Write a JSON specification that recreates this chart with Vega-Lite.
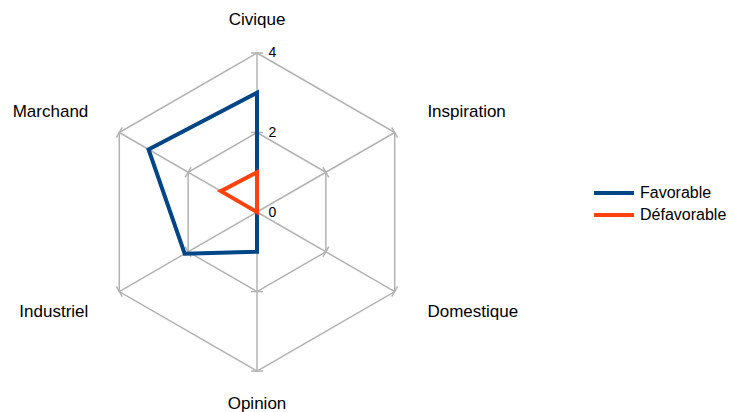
{
  "$schema": "https://vega.github.io/schema/vega-lite/v6.json",
  "width": 734,
  "height": 412,
  "autosize": {"type": "none"},
  "padding": 0,
  "background": "white",
  "config": {"view": {"stroke": null}, "font": "Liberation Sans"},
  "datasets": {
    "scores": [
      {"axe": "Civique", "serie": "Favorable", "valeur": 3},
      {"axe": "Inspiration", "serie": "Favorable", "valeur": 0},
      {"axe": "Domestique", "serie": "Favorable", "valeur": 0},
      {"axe": "Opinion", "serie": "Favorable", "valeur": 1},
      {"axe": "Industriel", "serie": "Favorable", "valeur": 2.1},
      {"axe": "Marchand", "serie": "Favorable", "valeur": 3.15},
      {"axe": "Civique", "serie": "Défavorable", "valeur": 1},
      {"axe": "Inspiration", "serie": "Défavorable", "valeur": 0},
      {"axe": "Domestique", "serie": "Défavorable", "valeur": 0},
      {"axe": "Opinion", "serie": "Défavorable", "valeur": 0},
      {"axe": "Industriel", "serie": "Défavorable", "valeur": 0},
      {"axe": "Marchand", "serie": "Défavorable", "valeur": 1.05}
    ],
    "grille": [
      {"axe": "Civique", "niveau": 2},
      {"axe": "Inspiration", "niveau": 2},
      {"axe": "Domestique", "niveau": 2},
      {"axe": "Opinion", "niveau": 2},
      {"axe": "Industriel", "niveau": 2},
      {"axe": "Marchand", "niveau": 2},
      {"axe": "Civique", "niveau": 4},
      {"axe": "Inspiration", "niveau": 4},
      {"axe": "Domestique", "niveau": 4},
      {"axe": "Opinion", "niveau": 4},
      {"axe": "Industriel", "niveau": 4},
      {"axe": "Marchand", "niveau": 4}
    ]
  },
  "encoding": {
    "x": {"field": "x", "type": "quantitative", "scale": {"domain": [-6.465, 12.0], "nice": false, "zero": false}, "axis": null},
    "y": {"field": "y", "type": "quantitative", "scale": {"domain": [-5.03, 5.333], "nice": false, "zero": false},
      "axis": {"orient": "right", "offset": -477, "values": [0, 2, 4], "ticks": false, "tickSize": 0, "domain": false, "grid": false, "labelPadding": 11, "labelFontSize": 14, "labelColor": "#000000", "labelFont": "Liberation Sans", "title": null}}
  },
  "layer": [
    {
      "data": {"name": "grille"},
      "transform": [
        {"calculate": "indexof(['Civique','Inspiration','Domestique','Opinion','Industriel','Marchand'], datum.axe)", "as": "idx"},
        {"calculate": "datum.idx * PI / 3", "as": "a"},
        {"calculate": "datum.niveau * sin(datum.a)", "as": "x"},
        {"calculate": "datum.niveau * cos(datum.a)", "as": "y"}
      ],
      "mark": {"type": "line", "interpolate": "linear-closed", "color": "#b3b3b3", "strokeWidth": 1.5},
      "encoding": {
        "detail": {"field": "niveau"},
        "order": {"field": "idx", "type": "quantitative"}
      }
    },
    {
      "data": {"name": "grille"},
      "transform": [
        {"filter": "datum.niveau == 4"},
        {"calculate": "indexof(['Civique','Inspiration','Domestique','Opinion','Industriel','Marchand'], datum.axe) * PI / 3", "as": "a"},
        {"calculate": "datum.niveau * sin(datum.a)", "as": "x"},
        {"calculate": "datum.niveau * cos(datum.a)", "as": "y"}
      ],
      "mark": {"type": "rule", "color": "#b3b3b3", "strokeWidth": 1.5},
      "encoding": {
        "x2": {"datum": 0},
        "y2": {"datum": 0}
      }
    },
    {
      "data": {"name": "grille"},
      "transform": [
        {"calculate": "indexof(['Civique','Inspiration','Domestique','Opinion','Industriel','Marchand'], datum.axe) * PI / 3", "as": "a"},
        {"calculate": "datum.niveau * sin(datum.a) - 0.15 * cos(datum.a)", "as": "x"},
        {"calculate": "datum.niveau * cos(datum.a) + 0.15 * sin(datum.a)", "as": "y"},
        {"calculate": "datum.niveau * sin(datum.a) + 0.15 * cos(datum.a)", "as": "x2"},
        {"calculate": "datum.niveau * cos(datum.a) - 0.15 * sin(datum.a)", "as": "y2"}
      ],
      "mark": {"type": "rule", "color": "#b3b3b3", "strokeWidth": 1.5},
      "encoding": {
        "x2": {"field": "x2"},
        "y2": {"field": "y2"}
      }
    },
    {
      "data": {"name": "scores"},
      "transform": [
        {"calculate": "indexof(['Civique','Inspiration','Domestique','Opinion','Industriel','Marchand'], datum.axe)", "as": "idx"},
        {"calculate": "datum.idx * PI / 3", "as": "a"},
        {"calculate": "datum.valeur * sin(datum.a)", "as": "x"},
        {"calculate": "datum.valeur * cos(datum.a)", "as": "y"}
      ],
      "mark": {"type": "line", "interpolate": "linear-closed", "strokeWidth": 4, "strokeJoin": "miter"},
      "encoding": {
        "order": {"field": "idx", "type": "quantitative"},
        "color": {
          "field": "serie", "type": "nominal",
          "scale": {"domain": ["Favorable", "Défavorable"], "range": ["#004586", "#ff420e"]},
          "legend": {"orient": "none", "legendX": 604, "legendY": 183, "title": null, "symbolType": "M-2.5,0H2.5", "symbolSize": 256, "symbolStrokeWidth": 4, "labelFontSize": 16, "labelFont": "Liberation Sans", "labelColor": "#000000", "rowPadding": 4, "labelOffset": 16}
        }
      }
    },
    {
      "data": {"name": "grille"},
      "transform": [
        {"filter": "datum.niveau == 4 && (datum.axe == 'Civique' || datum.axe == 'Opinion')"},
        {"calculate": "indexof(['Civique','Inspiration','Domestique','Opinion','Industriel','Marchand'], datum.axe) * PI / 3", "as": "a"},
        {"calculate": "4.85 * sin(datum.a)", "as": "x"},
        {"calculate": "4.82 * cos(datum.a)", "as": "y"}
      ],
      "mark": {"type": "text", "align": "center", "baseline": "middle", "fontSize": 17, "font": "Liberation Sans", "color": "#000000"},
      "encoding": {
        "text": {"field": "axe"}
      }
    },
    {
      "data": {"name": "grille"},
      "transform": [
        {"filter": "datum.niveau == 4 && (datum.axe == 'Inspiration' || datum.axe == 'Domestique')"},
        {"calculate": "indexof(['Civique','Inspiration','Domestique','Opinion','Industriel','Marchand'], datum.axe) * PI / 3", "as": "a"},
        {"calculate": "4.95 * sin(datum.a)", "as": "x"},
        {"calculate": "5.05 * cos(datum.a)", "as": "y"}
      ],
      "mark": {"type": "text", "align": "left", "baseline": "middle", "fontSize": 17, "font": "Liberation Sans", "color": "#000000"},
      "encoding": {
        "text": {"field": "axe"}
      }
    },
    {
      "data": {"name": "grille"},
      "transform": [
        {"filter": "datum.niveau == 4 && (datum.axe == 'Industriel' || datum.axe == 'Marchand')"},
        {"calculate": "indexof(['Civique','Inspiration','Domestique','Opinion','Industriel','Marchand'], datum.axe) * PI / 3", "as": "a"},
        {"calculate": "4.9 * sin(datum.a)", "as": "x"},
        {"calculate": "5.05 * cos(datum.a)", "as": "y"}
      ],
      "mark": {"type": "text", "align": "right", "baseline": "middle", "fontSize": 17, "font": "Liberation Sans", "color": "#000000"},
      "encoding": {
        "text": {"field": "axe"}
      }
    }
  ]
}
